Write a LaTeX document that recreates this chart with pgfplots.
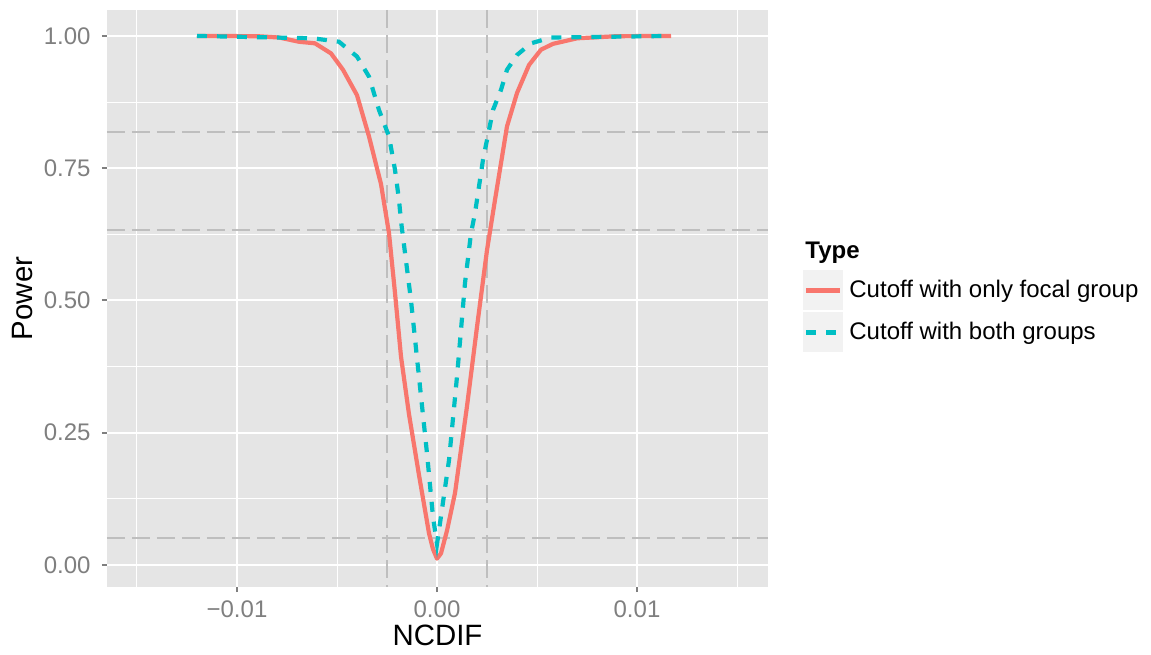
\documentclass[border=0pt]{standalone}
\usepackage{fontspec}
\setmainfont{Liberation Sans}
\usepackage{pgfplots}
\pgfplotsset{compat=1.18}
\definecolor{panelbg}{HTML}{E5E5E5}
\definecolor{tickgrey}{HTML}{7F7F7F}
\definecolor{refgrey}{HTML}{BEBEBE}
\definecolor{keybg}{HTML}{F2F2F2}
\definecolor{redline}{HTML}{F8766D}
\definecolor{cyanline}{HTML}{00BFC4}

\begin{document}
\begin{tikzpicture}
\begin{axis}[
  name=ax,
  scale only axis,
  width=330.5pt, height=288.5pt,
  xmin=-0.0165, xmax=0.01655,
  ymin=-0.0416, ymax=1.049,
  axis background/.style={fill=panelbg},
  axis line style={draw=none},
  xtick={-0.01,0,0.01},
  xticklabels={−0.01,0.00,0.01},
  ytick={0,0.25,0.5,0.75,1},
  yticklabels={0.00,0.25,0.50,0.75,1.00},
  minor xtick={-0.015,-0.005,0.005,0.015},
  minor ytick={0.125,0.375,0.625,0.875},
  scaled x ticks=false, scaled y ticks=false,
  xtick pos=bottom, ytick pos=left,
  tick align=outside,
  major tick length=2.5pt, minor tick length=0pt,
  major tick style={tickgrey, line width=1pt},
  grid=both,
  major grid style={white, line width=1pt},
  minor grid style={white, line width=0.5pt},
  ticklabel style={font=\fontsize{12}{14}\selectfont, text=tickgrey},
  xticklabel style={inner sep=0pt, yshift=-4pt},
  yticklabel style={inner sep=0pt, xshift=-5.5pt},
  xlabel={NCDIF}, ylabel={Power},
  label style={font=\fontsize{14.7}{17}\selectfont},
  xlabel style={at={(axis description cs:0.5,0)}, anchor=base, yshift=-29pt},
  ylabel style={at={(axis description cs:0,0.5)}, anchor=base, yshift=37pt},
  legend cell align=left,
  legend style={at={(1,0.5494)}, anchor=north west, xshift=17.5pt,
    draw=none, fill=none, inner sep=0pt, row sep=1pt, column sep=3pt,
    nodes={inner sep=0pt}, font=\fontsize{12}{14}\selectfont},
  legend image code/.code={
    \path[fill=keybg, draw=none] (0pt,-10pt) rectangle (20pt,10pt);
    \draw[#1] (1.5pt,0pt) -- (18.5pt,0pt);
  },
]
% reference lines
\addplot[refgrey, line width=1.3pt, dash pattern=on 9pt off 3.5pt, forget plot]
  coordinates {(-0.0165,0.8185) (0.01655,0.8185)};
\addplot[refgrey, line width=1.3pt, dash pattern=on 9pt off 3.5pt, forget plot]
  coordinates {(-0.0165,0.633) (0.01655,0.633)};
\addplot[refgrey, line width=1.3pt, dash pattern=on 9pt off 3.5pt, forget plot]
  coordinates {(-0.0165,0.051) (0.01655,0.051)};
\addplot[refgrey, line width=1.3pt, dash pattern=on 9pt off 3.5pt, forget plot]
  coordinates {(-0.0025,1.049) (-0.0025,-0.0416)};
\addplot[refgrey, line width=1.3pt, dash pattern=on 9pt off 3.5pt, forget plot]
  coordinates {(0.0025,1.049) (0.0025,-0.0416)};

% cutoff with only focal group
\addplot[redline, line width=2.1pt, line join=round] coordinates {
  (-0.0120,1.000) (-0.0090,0.9995) (-0.0079,0.997) (-0.0069,0.989)
  (-0.0061,0.986) (-0.0053,0.967) (-0.0047,0.936) (-0.0040,0.888)
  (-0.0034,0.810) (-0.0028,0.720) (-0.0024,0.627) (-0.0021,0.514)
  (-0.0018,0.394) (-0.0014,0.285) (-0.0009,0.170) (-0.0004,0.060)
  (-0.0002,0.030) (0.0000,0.012) (0.0002,0.022) (0.0005,0.065)
  (0.0009,0.136) (0.0015,0.300) (0.0020,0.450) (0.0025,0.595)
  (0.0029,0.690) (0.0035,0.829) (0.0040,0.892) (0.0046,0.945)
  (0.0052,0.974) (0.0058,0.985) (0.0070,0.9955) (0.0090,0.9995)
  (0.0117,1.000)
};
\addlegendentry{Cutoff with only focal group}

% cutoff with both groups
\addplot[cyanline, line width=2.1pt, dash pattern=on 5pt off 5pt] coordinates {
  (-0.0120,1.000) (-0.0062,0.9955) (-0.0049,0.989) (-0.0040,0.961)
  (-0.0034,0.923) (-0.0029,0.860) (-0.0024,0.810) (-0.0021,0.747)
  (-0.0019,0.690) (-0.0018,0.650) (-0.0013,0.500) (-0.00085,0.337)
  (-0.0005,0.211) (-0.0002,0.091) (0.0000,0.040) (0.00015,0.079)
  (0.0006,0.198) (0.0010,0.356) (0.0014,0.533) (0.0017,0.627)
  (0.0019,0.665) (0.0023,0.766) (0.0026,0.822) (0.0028,0.860)
  (0.0032,0.898) (0.0035,0.936) (0.0040,0.964) (0.0047,0.986)
  (0.0057,0.997) (0.0117,1.000)
};
\addlegendentry{Cutoff with both groups}
\end{axis}
\node[anchor=base west, inner sep=0pt, font=\bfseries\fontsize{12}{14}\selectfont]
  at ([xshift=18.5pt,yshift=-124pt]ax.north east) {Type};
\pgfresetboundingbox
\path[use as bounding box] ([xshift=-53.5pt,yshift=-33.5pt]ax.south west)
  rectangle ([xshift=191.5pt,yshift=5pt]ax.north east);
\end{tikzpicture}
\end{document}
